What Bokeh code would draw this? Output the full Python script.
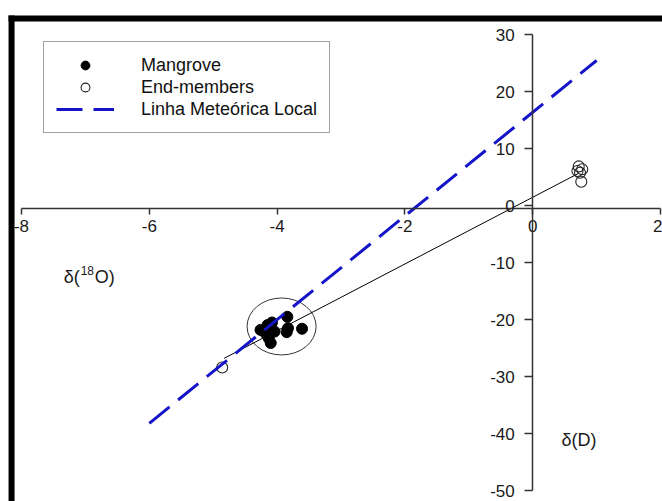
from bokeh.plotting import figure
from bokeh.models import (Range1d, LinearAxis, FixedTicker, Legend, LegendItem,
                          Label, BoxAnnotation, Grid)
from bokeh.embed import file_html
from bokeh.resources import INLINE

# ---------------- data ----------------
mangrove_d18o = [-4.26, -4.15, -4.08, -4.18, -4.13, -4.10, -4.04, -3.84, -3.83, -3.85, -3.61]
mangrove_dd = [-21.8, -20.95, -20.5, -22.4, -23.3, -24.1, -22.1, -19.5, -21.5, -22.2, -21.6]

end_d18o = [0.72, 0.775, 0.74, 0.76, 0.70, -4.86]
end_dd = [6.9, 6.4, 5.8, 4.2, 6.1, -28.4]

# regression (mixing) line endpoints
mix_d18o = [-4.83, 0.72]
mix_dd = [-26.8, 5.7]

# Local Meteoric Water Line endpoints
lmwl_d18o = [-6.0, 1.0]
lmwl_dd = [-38.2, 25.5]

# ellipse around the mangrove cluster
ell_center = (-3.93, -21.2)
ell_size = (1.08, 10.0)

x_ticks = [-8, -6, -4, -2, 0, 2]
y_ticks = [-50, -40, -30, -20, -10, 0, 10, 20, 30]

labels = ["Mangrove", "End-members", "Linha Meteórica Local"]

# ---------------- figure ----------------
W, H = 662, 501
FONT = "Liberation Sans"
TXT = "#1a1a1a"
p = figure(width=W, height=H, output_backend="svg", toolbar_location=None,
           x_range=Range1d(-8.329, 2.031), y_range=Range1d(-51.93, 36.03),
           x_axis_location=None, y_axis_location=None, min_border=0)
p.outline_line_color = None
p.background_fill_color = "white"
p.border_fill_color = "white"
p.center = [r for r in p.center if not isinstance(r, Grid)]

# axes crossing near the origin
xaxis = LinearAxis(fixed_location=-0.55, ticker=FixedTicker(ticks=x_ticks), bounds=(-8, 2))
yaxis = LinearAxis(fixed_location=0, ticker=FixedTicker(ticks=y_ticks), bounds=(-50, 30))
xaxis.major_label_overrides = {t: str(t) for t in x_ticks}
yaxis.major_label_overrides = {t: str(t) for t in y_ticks}
for ax, out, stand in ((xaxis, 6, 5), (yaxis, 8, 10)):
    ax.axis_line_color = "#333333"
    ax.axis_line_width = 1.5
    ax.major_tick_line_color = "#333333"
    ax.major_tick_line_width = 1.5
    ax.major_tick_out = out
    ax.major_tick_in = 0
    ax.minor_tick_out = 0
    ax.minor_tick_in = 0
    ax.major_label_text_font = FONT
    ax.major_label_text_font_size = "17px"
    ax.major_label_text_color = TXT
    ax.major_label_standoff = stand
p.add_layout(xaxis, "below")
p.add_layout(yaxis, "left")

# glyphs
p.ellipse(x=[ell_center[0]], y=[ell_center[1]], width=[ell_size[0]], height=[ell_size[1]],
          fill_color=None, line_color="#333333", line_width=1)
p.line(mix_d18o, mix_dd, line_color="black", line_width=1)
r_m = p.scatter(mangrove_d18o, mangrove_dd, marker="circle", size=11,
                fill_color="black", line_color="black")
r_e = p.scatter(end_d18o, end_dd, marker="circle", size=11,
                fill_color=None, line_color="#222222", line_width=1.1)
r_l = p.line(lmwl_d18o, lmwl_dd, line_color="#1414c8", line_width=3, line_dash="26 11")

# axis titles  δ(18O) with a raised "18", and δ(D)
tx, ty = -7.34, -12.5
p.add_layout(Label(x=tx, y=ty, text="δ(", text_baseline="middle",
                   text_font=FONT, text_font_size="18px", text_color=TXT))
p.add_layout(Label(x=tx, y=ty, text="18", text_baseline="middle", x_offset=17, y_offset=6,
                   text_font=FONT, text_font_size="12px", text_color=TXT))
p.add_layout(Label(x=tx, y=ty, text="O)", text_baseline="middle", x_offset=31,
                   text_font=FONT, text_font_size="18px", text_color=TXT))
p.add_layout(Label(x=0.45, y=-41.2, text="δ(D)", text_baseline="middle",
                   text_font=FONT, text_font_size="18px", text_color=TXT))

# legend
legend = Legend(items=[LegendItem(label=labels[0], renderers=[r_m]),
                       LegendItem(label=labels[1], renderers=[r_e]),
                       LegendItem(label=labels[2], renderers=[r_l])],
                location=(43, H - 133))
legend.glyph_width = 58
legend.glyph_height = 22
legend.label_height = 22
legend.label_standoff = 27
legend.padding = 12
legend.spacing = 0
legend.margin = 0
legend.label_text_font = FONT
legend.label_text_font_size = "18px"
legend.label_text_color = "#111111"
legend.border_line_color = "#444444"
legend.border_line_width = 1.2
legend.background_fill_color = "white"
legend.background_fill_alpha = 1
p.add_layout(legend)

# thick black frame border (top and left, as in the cropped original)
p.add_layout(BoxAnnotation(left=-8.203, bottom=32.34, top=33.39, fill_color="black",
                           fill_alpha=1, line_color=None))
p.add_layout(BoxAnnotation(left=-8.203, right=-8.109, top=33.39, fill_color="black",
                           fill_alpha=1, line_color=None))

open("out.html", "w").write(file_html(p, INLINE))
